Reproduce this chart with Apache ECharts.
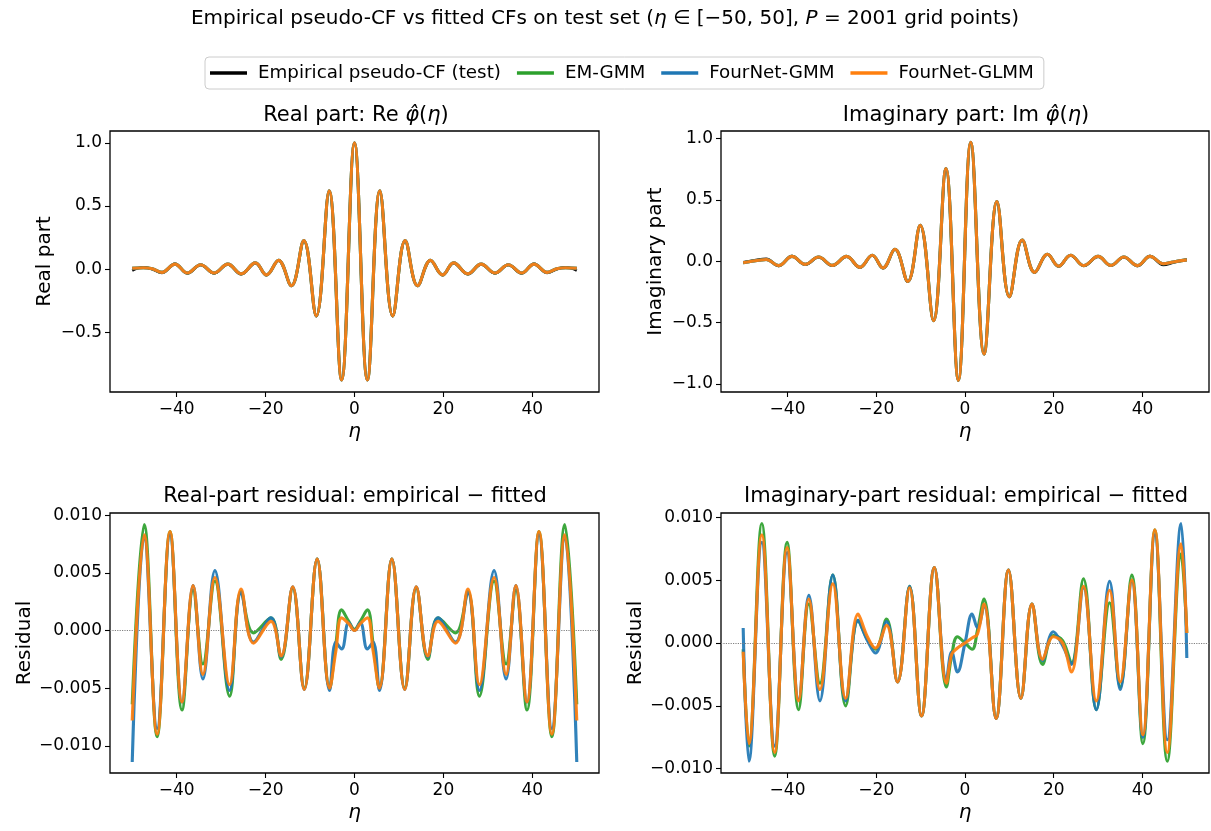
<!DOCTYPE html>
<html>
<head>
<meta charset="utf-8">
<script src="https://cdn.jsdelivr.net/npm/echarts@6/dist/echarts.min.js"></script>
<style>
html,body{margin:0;padding:0;background:#fff;}
#chart{width:1211px;height:831px;}
</style>
</head>
<body>
<div id="chart"></div>
<script>
// ---------------- DATA ----------------
const seriesNames = ['Empirical pseudo-CF (test)', 'EM-GMM', 'FourNet-GMM', 'FourNet-GLMM'];

const xTicks = [-40, -20, 0, 20, 40];
const reTicks = [-0.5, 0.0, 0.5, 1.0];
const imTicks = [-1.0, -0.5, 0.0, 0.5, 1.0];
const resTicks = [-0.010, -0.005, 0.000, 0.005, 0.010];

// Real part (top-left): eta positions of the extremes and values
const etaRe = [-50,-47.5,-45.5,-43.3,-40.4,-37.6,-34.6,-31.6,-28.5,-25.5,-22.3,-19.8,-17.1,-14.2,-11.4,-8.6,-5.7,-2.9,0,2.9,5.7,8.6,11.4,14.2,17.1,19.8,22.3,25.5,28.5,31.6,34.6,37.6,40.4,43.3,45.5,47.5,50];
const reFit = [0.008,0.012,0.004,-0.025,0.040,-0.030,0.035,-0.030,0.040,-0.037,0.050,-0.045,0.070,-0.130,0.226,-0.370,0.620,-0.877,1.000,-0.877,0.620,-0.370,0.226,-0.130,0.070,-0.045,0.050,-0.037,0.040,-0.030,0.035,-0.030,0.040,-0.025,0.004,0.012,0.008];
const reEmp = [-0.012,0.015,0.000,-0.030,0.043,-0.033,0.033,-0.033,0.038,-0.040,0.048,-0.047,0.068,-0.132,0.224,-0.372,0.618,-0.878,1.000,-0.878,0.618,-0.372,0.224,-0.132,0.068,-0.047,0.048,-0.040,0.038,-0.033,0.033,-0.033,0.043,-0.030,0.000,0.015,-0.012];

// Imaginary part (top-right)
const etaIm = [-50,-46.5,-44.8,-42.0,-39.0,-36.0,-33.0,-29.9,-26.7,-23.7,-20.9,-18.5,-15.8,-12.9,-10.1,-7.1,-4.3,-1.5,1.3,4.3,7.2,10.0,12.9,15.7,18.6,21.1,23.8,26.8,30.0,32.9,35.8,38.9,41.7,44.7,47.0,50];
const imFit = [-0.012,0.008,0.015,-0.035,0.040,-0.025,0.035,-0.033,0.040,-0.049,0.049,-0.054,0.098,-0.165,0.293,-0.483,0.755,-0.970,0.970,-0.755,0.488,-0.288,0.174,-0.090,0.057,-0.040,0.049,-0.035,0.040,-0.033,0.035,-0.035,0.040,-0.020,-0.005,0.012];
const imEmp = [-0.008,0.015,0.020,-0.038,0.043,-0.028,0.033,-0.036,0.038,-0.051,0.047,-0.056,0.096,-0.167,0.291,-0.485,0.753,-0.972,0.968,-0.757,0.486,-0.290,0.172,-0.092,0.055,-0.042,0.047,-0.037,0.038,-0.035,0.033,-0.038,0.043,-0.030,-0.010,0.015];

// Real-part residual (bottom-left)
const etaResRe = [-50,-47.3,-44.4,-41.5,-38.8,-36.3,-34.1,-31.4,-28.1,-25.5,-22.7,-18.8,-16.5,-13.9,-11.3,-8.4,-5.6,-4.2,-2.9,-1.3,0,1.3,2.9,4.2,5.6,8.4,11.3,13.9,16.5,18.8,22.7,25.5,28.1,31.4,34.1,36.3,38.8,41.5,44.4,47.3,50];
const resReEM   = [-0.0064,0.0092,-0.0092,0.0086,-0.0069,0.0035,-0.0029,0.0043,-0.0057,0.0034,-0.0002,0.0011,-0.0025,0.0037,-0.0050,0.0062,-0.0050,-0.0012,0.0018,0.0008,0.0001,0.0008,0.0018,-0.0012,-0.0050,0.0062,-0.0050,0.0037,-0.0025,0.0011,-0.0002,0.0034,-0.0057,0.0043,-0.0029,0.0035,-0.0069,0.0086,-0.0092,0.0092,-0.0064];
const resReGMM  = [-0.0114,0.0082,-0.0085,0.0083,-0.0062,0.0039,-0.0042,0.0052,-0.0052,0.0033,-0.0010,0.0011,-0.0023,0.0038,-0.0051,0.0062,-0.0052,-0.0010,-0.0016,0.0007,0.0000,0.0007,-0.0016,-0.0010,-0.0052,0.0062,-0.0051,0.0038,-0.0023,0.0011,-0.0010,0.0033,-0.0052,0.0052,-0.0042,0.0039,-0.0062,0.0083,-0.0085,0.0082,-0.0114];
const resReGLMM = [-0.0078,0.0083,-0.0090,0.0086,-0.0062,0.0039,-0.0038,0.0046,-0.0047,0.0036,-0.0011,0.0008,-0.0022,0.0038,-0.0051,0.0062,-0.0050,-0.0018,0.0011,0.0006,0.0000,0.0006,0.0011,-0.0018,-0.0050,0.0062,-0.0051,0.0038,-0.0022,0.0008,-0.0011,0.0036,-0.0047,0.0046,-0.0038,0.0039,-0.0062,0.0086,-0.0090,0.0083,-0.0078];

// Imaginary-part residual (bottom-right)
const etaResIm = [-50,-48.7,-45.8,-42.9,-40.1,-37.5,-35.2,-32.7,-29.8,-26.9,-24.1,-22.0,-20.2,-17.7,-15.2,-12.5,-9.8,-6.9,-4.2,-3.0,-1.7,0,1.6,2.8,4.3,7.0,9.8,12.6,15.1,17.5,19.9,22.0,24.0,26.7,29.6,32.6,35.0,37.6,40.1,42.8,45.6,48.7,50];
const resImEM   = [-0.0005,-0.0082,0.0095,-0.0090,0.0080,-0.0053,0.0031,-0.0032,0.0054,-0.0050,0.0018,0.0003,-0.0005,0.0019,-0.0031,0.0045,-0.0058,0.0060,-0.0035,-0.0010,0.0005,0.0000,-0.0005,0.0010,0.0035,-0.0060,0.0058,-0.0044,0.0031,-0.0017,0.0006,0.0002,-0.0016,0.0051,-0.0053,0.0032,-0.0035,0.0054,-0.0080,0.0090,-0.0094,0.0071,0.0008];
const resImGMM  = [0.0012,-0.0094,0.0080,-0.0082,0.0072,-0.0045,0.0038,-0.0046,0.0054,-0.0046,0.0018,0.0002,-0.0008,0.0017,-0.0031,0.0045,-0.0058,0.0060,-0.0029,-0.0007,-0.0023,0.0000,0.0023,0.0012,0.0030,-0.0060,0.0058,-0.0044,0.0031,-0.0014,0.0009,-0.0002,-0.0017,0.0044,-0.0053,0.0049,-0.0037,0.0049,-0.0075,0.0086,-0.0077,0.0095,-0.0012];
const resImGLMM = [-0.0007,-0.0080,0.0086,-0.0087,0.0076,-0.0046,0.0035,-0.0037,0.0047,-0.0044,0.0023,0.0005,-0.0004,0.0014,-0.0031,0.0044,-0.0058,0.0060,-0.0032,-0.0009,-0.0004,0.0000,0.0004,0.0007,0.0031,-0.0060,0.0058,-0.0044,0.0031,-0.0013,0.0005,0.0000,-0.0023,0.0045,-0.0046,0.0042,-0.0031,0.0050,-0.0073,0.0090,-0.0087,0.0079,0.0008];

// ---------------- CHART ----------------
const FONT = 'DejaVu Sans';
const colors = {emp:'#000000', em:'#2ca02c', gmm:'#1f77b4', glmm:'#ff7f0e'};
const grids = [
  {left:110, top:131, width:489, height:261},
  {left:721, top:131, width:488, height:261},
  {left:110, top:513, width:489, height:260},
  {left:721, top:513, width:488, height:260}
];
const yRanges = [[-0.972, 1.094], [-1.065, 1.062], [-0.01236, 0.0102], [-0.01034, 0.01034]];
const yTickSets = [reTicks, imTicks, resTicks, resTicks];
const yDec = [1, 1, 3, 3];
const yNames = ['Real part', 'Imaginary part', 'Residual', 'Residual'];
const yNameGaps = [55, 55, 75, 75];

function fmt(v, d){ return v.toFixed(d).replace('-', '\u2212'); }
function pairs(xs, ys){ return xs.map((x,i)=>[x, ys[i]]); }

const xAxes = grids.map((g,i)=>({
  type:'value', gridIndex:i, min:-55, max:55,
  axisLine:{show:false, onZero:false},
  splitLine:{show:false},
  axisTick:{show:true, length:5, lineStyle:{color:'#000', width:1.1}, customValues:xTicks},
  axisLabel:{customValues:xTicks, formatter:v=>fmt(v,0), fontFamily:FONT, fontSize:17, color:'#000', margin:9},
  name:'\u03b7', nameLocation:'middle', nameGap:30,
  nameTextStyle:{fontFamily:FONT, fontStyle:'italic', fontSize:20, color:'#000'}
}));
const yAxes = grids.map((g,i)=>({
  type:'value', gridIndex:i, min:yRanges[i][0], max:yRanges[i][1],
  axisLine:{show:false, onZero:false},
  splitLine:{show:false},
  axisTick:{show:true, length:5, lineStyle:{color:'#000', width:1.1}, customValues:yTickSets[i]},
  axisLabel:{customValues:yTickSets[i], formatter:v=>fmt(v,yDec[i]), fontFamily:FONT, fontSize:17, color:'#000', margin:8},
  name:yNames[i], nameLocation:'middle', nameGap:yNameGaps[i],
  nameTextStyle:{fontFamily:FONT, fontSize:20, color:'#000'}
}));

function line(name, idx, data, color, width, z){
  return {type:'line', name:name, xAxisIndex:idx, yAxisIndex:idx, data:data,
    showSymbol:false, symbol:'none', smooth:0.4, z:z, silent:true,
    lineStyle:{color:color, width:width, opacity:0.92}, itemStyle:{color:color}};
}
const zeroLine = {silent:true, symbol:['none','none'], label:{show:false},
  lineStyle:{type:'dotted', color:'#808080', width:1.2}, data:[{yAxis:0}]};

const series = [
  line(seriesNames[0], 0, pairs(etaRe, reEmp), colors.emp, 2.5, 2),
  line(seriesNames[1], 0, pairs(etaRe, reFit), colors.em, 3.1, 3),
  line(seriesNames[2], 0, pairs(etaRe, reFit), colors.gmm, 3.1, 4),
  line(seriesNames[3], 0, pairs(etaRe, reFit), colors.glmm, 3.1, 5),
  line(seriesNames[0], 1, pairs(etaIm, imEmp), colors.emp, 2.5, 2),
  line(seriesNames[1], 1, pairs(etaIm, imFit), colors.em, 3.1, 3),
  line(seriesNames[2], 1, pairs(etaIm, imFit), colors.gmm, 3.1, 4),
  line(seriesNames[3], 1, pairs(etaIm, imFit), colors.glmm, 3.1, 5),
  Object.assign(line(seriesNames[1], 2, pairs(etaResRe, resReEM), colors.em, 3.1, 3), {markLine:zeroLine}),
  line(seriesNames[2], 2, pairs(etaResRe, resReGMM), colors.gmm, 3.1, 4),
  line(seriesNames[3], 2, pairs(etaResRe, resReGLMM), colors.glmm, 3.1, 5),
  Object.assign(line(seriesNames[1], 3, pairs(etaResIm, resImEM), colors.em, 3.1, 3), {markLine:zeroLine}),
  line(seriesNames[2], 3, pairs(etaResIm, resImGMM), colors.gmm, 3.1, 4),
  line(seriesNames[3], 3, pairs(etaResIm, resImGLMM), colors.glmm, 3.1, 5)
];

function mkRich(size){
  return {
    n:{fontFamily:FONT, fontSize:size, color:'#000'},
    i:{fontFamily:FONT, fontSize:size, fontStyle:'italic', color:'#000'}
  };
}
function titleText(x, y, text, size){
  return {type:'text', x:x, y:y, silent:true,
    style:{text:text, rich:mkRich(size), textAlign:'center', textVerticalAlign:'middle', fontFamily:FONT, fontSize:size, fill:'#000'}};
}
const graphic = [
  titleText(605, 19, '{n|Empirical pseudo-CF vs fitted CFs on test set (}{i|\u03b7}{n| \u2208 [\u221250, 50], }{i|P}{n| = 2001 grid points)}', 20),
  titleText(356, 116, '{n|Real part: Re }{i|\u03c6\u0302}{n|(}{i|\u03b7}{n|)}', 21),
  titleText(966, 116, '{n|Imaginary part: Im }{i|\u03c6\u0302}{n|(}{i|\u03b7}{n|)}', 21),
  titleText(355, 497, '{n|Real-part residual: empirical \u2212 fitted}', 21),
  titleText(966, 497, '{n|Imaginary-part residual: empirical \u2212 fitted}', 21)
];

const chart = echarts.init(document.getElementById('chart'), null, {renderer:'canvas'});
chart.setOption({
  animation:false,
  backgroundColor:'#fff',
  grid: grids.map(g=>Object.assign({show:true, borderColor:'#000', borderWidth:1.3, backgroundColor:'transparent', containLabel:false}, g)),
  xAxis:xAxes, yAxis:yAxes,
  legend:{
    data:seriesNames, top:57, left:205,
    icon:'rect', itemWidth:37, itemHeight:3.5, itemGap:16,
    textStyle:{fontFamily:FONT, fontSize:18.3, color:'#000', padding:[0,0,0,6]},
    borderColor:'#cccccc', borderWidth:1, borderRadius:4, padding:[7,10,7,5],
    selectedMode:false
  },
  series:series,
  graphic:graphic
});
</script>
</body>
</html>
